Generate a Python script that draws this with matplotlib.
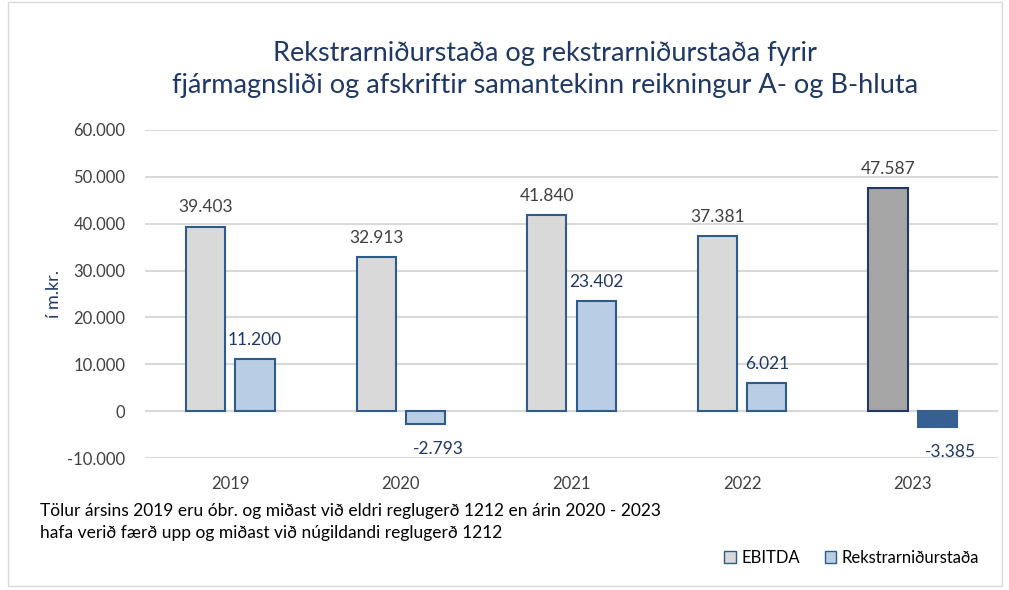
import numpy as np
import matplotlib.pyplot as plt
from matplotlib.patches import Rectangle

years = ["2019", "2020", "2021", "2022", "2023"]
ebitda = [39403, 32913, 41840, 37381, 47587]
rekstur = [11200, -2793, 23402, 6021, -3385]
yticks = [-10000, 0, 10000, 20000, 30000, 40000, 50000, 60000]

# last year highlighted with darker colours
ebitda_face = ["#D9D9D9"] * 4 + ["#A6A6A6"]
ebitda_edge = ["#2F5A8C"] * 4 + ["#1F3864"]
rekstur_face = ["#B9CDE5"] * 4 + ["#376092"]
rekstur_edge = ["#2F5A8C"] * 4 + ["#376092"]

navy = "#1F3864"
font = ["Lato", "DejaVu Sans"]
plt.rcParams["font.family"] = font


def fmt(v):
    return f"{v:,.0f}".replace(",", ".")


fig = plt.figure(figsize=(10.09, 5.9), dpi=100)
ax = fig.add_axes([0.1437, 0.2237, 0.8454, 0.556])

x = np.arange(len(years))
w = 0.23
off = 0.145
ax.bar(x - off, ebitda, w, color=ebitda_face, edgecolor=ebitda_edge, linewidth=1.5, zorder=3)
ax.bar(x + off, rekstur, w, color=rekstur_face, edgecolor=rekstur_edge, linewidth=1.5, zorder=3)

for xi, v in zip(x, ebitda):
    ax.annotate(fmt(v), (xi - off, v), xytext=(0, 8), textcoords="offset points",
                ha="center", va="bottom", fontsize=12.5, color="#404040")
for xi, v in zip(x, rekstur):
    if v >= 0:
        ax.annotate(fmt(v), (xi + off, v), xytext=(0, 8), textcoords="offset points",
                    ha="center", va="bottom", fontsize=12.5, color=navy)
    else:
        ax.annotate(fmt(v), (xi + off, v), xytext=(9, -12), textcoords="offset points",
                    ha="center", va="top", fontsize=12.5, color=navy)

ax.set_xlim(-0.5, 4.5)
ax.set_ylim(-10000, 60000)
ax.set_yticks(yticks)
ax.set_yticklabels([fmt(t) for t in yticks], fontsize=12, color="#404040")
ax.set_xticks(x)
ax.set_xticklabels(years, fontsize=12, color="#404040")
ax.tick_params(axis="both", length=0)
ax.tick_params(axis="x", pad=13)
ax.tick_params(axis="y", pad=14)
ax.grid(axis="y", color="#D9D9D9", linewidth=1.5, zorder=0)
for s in ax.spines.values():
    s.set_visible(False)

ax.set_ylabel("í m.kr.", fontsize=13, color=navy, labelpad=4)

fig.text(0.54, 0.883, "Rekstrarniðurstaða og rekstrarniðurstaða fyrir\n"
         "fjármagnsliði og afskriftir samantekinn reikningur A- og B-hluta",
         ha="center", va="center", fontsize=19.5, color=navy, linespacing=1.35)

fig.text(0.04, 0.115, "Tölur ársins 2019 eru óbr. og miðast við eldri reglugerð 1212 en árin 2020 - 2023\n"
         "hafa verið færð upp og miðast við núgildandi reglugerð 1212",
         ha="left", va="center", fontsize=12.5, color="black", linespacing=1.5)

# legend
handles = [Rectangle((0, 0), 1, 1, facecolor="#D9D9D9", edgecolor="#2F5A8C"),
           Rectangle((0, 0), 1, 1, facecolor="#B9CDE5", edgecolor="#2F5A8C")]
fig.legend(handles, ["EBITDA", "Rekstrarniðurstaða"], loc="center right",
           bbox_to_anchor=(0.985, 0.055), ncol=2, frameon=False, fontsize=12,
           handlelength=0.7, handleheight=0.7, handletextpad=0.3, columnspacing=1.5)

fig.add_artist(Rectangle((0.008, 0.006), 0.985, 0.99, transform=fig.transFigure,
                         fill=False, edgecolor="#D9D9D9", linewidth=1))

fig.savefig("out.png", dpi=100)
